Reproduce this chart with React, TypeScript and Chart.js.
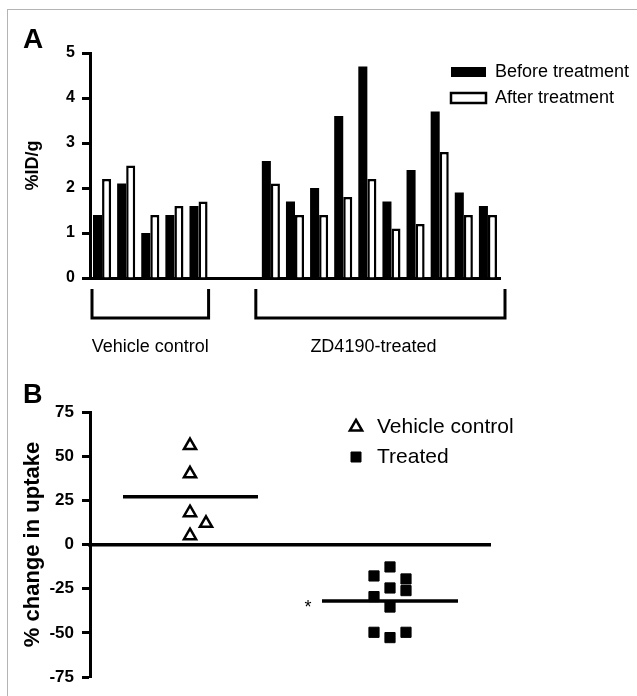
import React, { useEffect, useRef } from 'react';
import { Chart, registerables } from 'chart.js';

Chart.register(...registerables);

// ---------- Panel A data ----------
const vehicleLabels = ['V1', 'V2', 'V3', 'V4', 'V5'];
const gapLabels = [' ', '  '];
const treatedLabels = ['T1', 'T2', 'T3', 'T4', 'T5', 'T6', 'T7', 'T8', 'T9', 'T10'];
const vehicleBefore = [1.4, 2.1, 1.0, 1.4, 1.6];
const vehicleAfter = [2.2, 2.5, 1.4, 1.6, 1.7];
const treatedBefore = [2.6, 1.7, 2.0, 3.6, 4.7, 1.7, 2.4, 3.7, 1.9, 1.6];
const treatedAfter = [2.1, 1.4, 1.4, 1.8, 2.2, 1.1, 1.2, 2.8, 1.4, 1.4];
const seriesNamesA = ['Before treatment', 'After treatment'];
const groupNamesA = ['Vehicle control', 'ZD4190-treated'];
const yRangeA = [0, 5, 1];
const yTitleA = '%ID/g';

// ---------- Panel B data ----------
const vehicleX = [0.5, 0.5, 0.5, 0.58, 0.5];
const vehicleY = [56, 40, 18, 12, 5];
const treatedX = [1.5, 1.42, 1.58, 1.5, 1.58, 1.42, 1.5, 1.42, 1.5, 1.58];
const treatedY = [-12.7, -17.8, -19.5, -24.6, -26.1, -29.5, -35.4, -49.7, -52.7, -49.7];
const groupMeansB = [27, -32];
const meanSpanVehicle = [0.165, 0.84];
const meanSpanTreated = [1.16, 1.84];
const seriesNamesB = ['Vehicle control', 'Treated'];
const yRangeB = [-75, 75, 25];
const yTitleB = '% change in uptake';

const FONT = "'Liberation Sans', Arial, Helvetica, sans-serif";

Chart.defaults.font.family = FONT;
Chart.defaults.color = '#000';

function moveLegend(left: number, top: number) {
  return {
    id: 'moveLegend',
    beforeDraw(chart: any) {
      const lg = chart.legend;
      if (!lg) return;
      const w = lg.width;
      const h = lg.height;
      lg.left = left;
      lg.top = top;
      lg.right = left + w;
      lg.bottom = top + h;
    },
  };
}

const panelAExtras = {
  id: 'panelAExtras',
  afterDraw(chart: any) {
    const ctx = chart.ctx;
    const x = chart.scales.x;
    const area = chart.chartArea;
    const w = x.width / chart.data.labels.length;
    ctx.save();
    ctx.fillStyle = '#000';
    ctx.font = `bold 28px ${FONT}`;
    ctx.textAlign = 'left';
    ctx.textBaseline = 'alphabetic';
    ctx.fillText('A', 23, 48);

    const nV = vehicleLabels.length;
    const tStart = nV + gapLabels.length;
    const tEnd = tStart + treatedLabels.length - 1;
    const brackets = [
      [x.getPixelForValue(0) - w / 2 + 2, x.getPixelForValue(nV - 1) + w / 2 - 2],
      [x.getPixelForValue(tStart) - w / 2 - 3, x.getPixelForValue(tEnd) + w / 2 + 5],
    ];
    const yTop = area.bottom + 11;
    const yBot = area.bottom + 40;
    ctx.strokeStyle = '#000';
    ctx.lineWidth = 3;
    ctx.lineJoin = 'miter';
    brackets.forEach(([l, r]) => {
      ctx.beginPath();
      ctx.moveTo(l, yTop);
      ctx.lineTo(l, yBot);
      ctx.lineTo(r, yBot);
      ctx.lineTo(r, yTop);
      ctx.stroke();
    });
    ctx.font = `18px ${FONT}`;
    ctx.textAlign = 'center';
    ctx.textBaseline = 'middle';
    const cV = (x.getPixelForValue(0) + x.getPixelForValue(nV - 1)) / 2;
    const cT = (x.getPixelForValue(tStart) + x.getPixelForValue(tEnd)) / 2 - 6;
    ctx.fillText(groupNamesA[0], cV, area.bottom + 69);
    ctx.fillText(groupNamesA[1], cT, area.bottom + 69);
    ctx.restore();
  },
};

const panelBExtras = {
  id: 'panelBExtras',
  afterDraw(chart: any) {
    const ctx = chart.ctx;
    const x = chart.scales.x;
    const y = chart.scales.y;
    ctx.save();
    ctx.fillStyle = '#000';
    ctx.font = `bold 27px ${FONT}`;
    ctx.textAlign = 'left';
    ctx.textBaseline = 'alphabetic';
    ctx.fillText('B', 23, 33);
    ctx.font = `18px ${FONT}`;
    ctx.textAlign = 'center';
    ctx.fillText('*', x.getPixelForValue(meanSpanTreated[0]) - 14, y.getPixelForValue(groupMeansB[1]) + 12);
    ctx.restore();
  },
};

function ChartA() {
  const ref = useRef<HTMLCanvasElement>(null);
  useEffect(() => {
    const gap = gapLabels.map(() => null);
    const labels = [...vehicleLabels, ...gapLabels, ...treatedLabels];
    const chart = new Chart(ref.current as HTMLCanvasElement, {
      type: 'bar',
      data: {
        labels,
        datasets: [
          {
            label: seriesNamesA[0],
            data: [...vehicleBefore, ...gap, ...treatedBefore],
            backgroundColor: '#000',
            borderColor: '#000',
            borderWidth: 0,
            categoryPercentage: 0.75,
            barPercentage: 1,
          },
          {
            label: seriesNamesA[1],
            data: [...vehicleAfter, ...gap, ...treatedAfter],
            backgroundColor: '#fff',
            borderColor: '#000',
            borderWidth: 2.5,
            categoryPercentage: 0.75,
            barPercentage: 1,
          },
        ] as any,
      },
      options: {
        animation: false,
        responsive: false,
        events: [],
        layout: { padding: { left: 0, top: 53, right: 137, bottom: 92 } },
        plugins: {
          tooltip: { enabled: false },
          legend: {
            position: 'chartArea' as any,
            align: 'start',
            labels: {
              boxWidth: 35,
              boxHeight: 10,
              padding: 8,
              color: '#000',
              font: { size: 18, family: FONT },
            },
          },
        },
        scales: {
          x: {
            type: 'category',
            offset: true,
            grid: { display: false },
            ticks: { display: false },
            border: { display: true, color: '#000', width: 3 },
            afterFit: (s: any) => {
              s.height = 0;
            },
          },
          y: {
            min: yRangeA[0],
            max: yRangeA[1],
            ticks: { stepSize: yRangeA[2], color: '#000', padding: 7, font: { size: 16, weight: 'bold', family: FONT } },
            grid: { drawOnChartArea: false, drawTicks: true, tickLength: 8, tickWidth: 3, tickColor: '#000' },
            border: { display: true, color: '#000', width: 3 },
            title: {
              display: true,
              text: yTitleA,
              color: '#000',
              font: { size: 18, weight: 'bold', family: FONT },
              padding: { top: 22, bottom: 0 },
            },
            afterFit: (s: any) => {
              s.width = 90;
            },
          },
        },
      } as any,
      plugins: [moveLegend(443, 55), panelAExtras],
    });
    return () => chart.destroy();
  }, []);
  return <canvas ref={ref} width={637} height={370} style={{ position: 'absolute', left: 0, top: 0 }} />;
}

function ChartB() {
  const ref = useRef<HTMLCanvasElement>(null);
  useEffect(() => {
    const chart = new Chart(ref.current as HTMLCanvasElement, {
      type: 'scatter',
      data: {
        datasets: [
          {
            label: seriesNamesB[0],
            data: vehicleX.map((v, i) => ({ x: v, y: vehicleY[i] })),
            pointStyle: 'triangle',
            radius: 7,
            backgroundColor: '#fff',
            borderColor: '#000',
            borderWidth: 2.5,
          },
          {
            label: seriesNamesB[1],
            data: treatedX.map((v, i) => ({ x: v, y: treatedY[i] })),
            pointStyle: 'rect',
            radius: 7.2,
            backgroundColor: '#000',
            borderColor: '#000',
            borderWidth: 1,
          },
          {
            label: 'Vehicle mean',
            data: meanSpanVehicle.map((v) => ({ x: v, y: groupMeansB[0] })),
            showLine: true,
            borderColor: '#000',
            borderWidth: 3.5,
            pointRadius: 0,
          },
          {
            label: 'Treated mean',
            data: meanSpanTreated.map((v) => ({ x: v, y: groupMeansB[1] })),
            showLine: true,
            borderColor: '#000',
            borderWidth: 3.5,
            pointRadius: 0,
          },
        ] as any,
      },
      options: {
        animation: false,
        responsive: false,
        events: [],
        layout: { padding: { left: 0, top: 42, right: 147, bottom: 19 } },
        plugins: {
          tooltip: { enabled: false },
          legend: {
            position: 'chartArea' as any,
            align: 'start',
            labels: {
              usePointStyle: true,
              boxWidth: 21,
              boxHeight: 10,
              padding: 9,
              color: '#000',
              font: { size: 21, family: FONT },
              filter: (item: any) => item.datasetIndex < 2,
            },
          },
        },
        scales: {
          x: {
            type: 'linear',
            min: 0,
            max: 2,
            position: { y: 0 } as any,
            grid: { display: false },
            ticks: { display: false },
            border: { display: true, color: '#000', width: 3.5 },
          },
          y: {
            min: yRangeB[0],
            max: yRangeB[1],
            ticks: { stepSize: yRangeB[2], color: '#000', padding: 8, font: { size: 17, weight: 'bold', family: FONT } },
            grid: { drawOnChartArea: false, drawTicks: true, tickLength: 8, tickWidth: 3, tickColor: '#000' },
            border: { display: true, color: '#000', width: 3 },
            title: {
              display: true,
              text: yTitleB,
              color: '#000',
              font: { size: 22, weight: 'bold', family: FONT },
              padding: { top: 20, bottom: 0 },
            },
            afterFit: (s: any) => {
              s.width = 90;
            },
          },
        },
      } as any,
      plugins: [moveLegend(336.5, 37.5), panelBExtras],
    });
    return () => chart.destroy();
  }, []);
  return <canvas ref={ref} width={637} height={326} style={{ position: 'absolute', left: 0, top: 370 }} />;
}

export default function App() {
  return (
    <div style={{ position: 'absolute', left: 0, top: 0, width: 637, height: 696, background: '#fff', overflow: 'hidden' }}>
      <div
        style={{
          position: 'absolute',
          left: 7,
          top: 9,
          width: 700,
          height: 700,
          borderLeft: '1px solid #b4b4b4',
          borderTop: '1px solid #b4b4b4',
        }}
      />
      <ChartA />
      <ChartB />
    </div>
  );
}
